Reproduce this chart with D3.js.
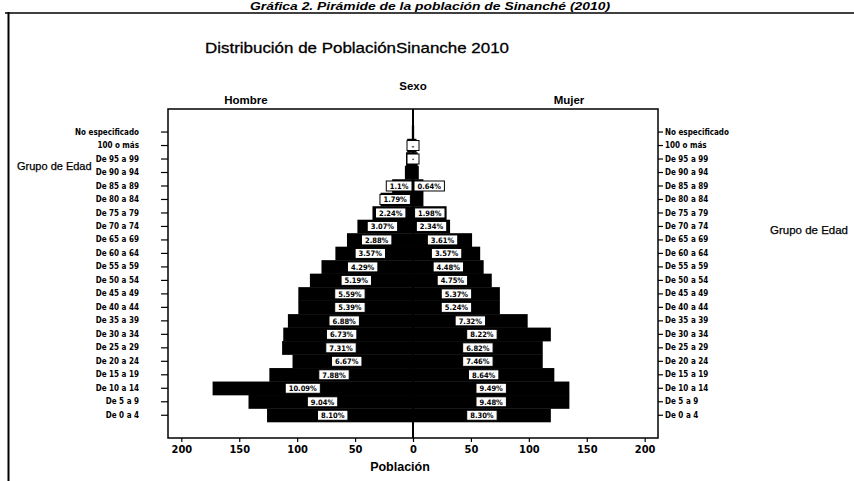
<!DOCTYPE html>
<html><head><meta charset="utf-8">
<script src="https://cdn.jsdelivr.net/npm/d3@7"></script>
<style>body{margin:0;background:#fff;} svg{display:block;}</style>
</head><body>
<script>
const categories = ["No especificado","100 o más","De 95 a 99","De 90 a 94","De 85 a 89","De 80 a 84","De 75 a 79","De 70 a 74","De 65 a 69","De 60 a 64","De 55 a 59","De 50 a 54","De 45 a 49","De 40 a 44","De 35 a 39","De 30 a 34","De 25 a 29","De 20 a 24","De 15 a 19","De 10 a 14","De 5 a 9","De 0 a 4"];
const hombre = [1, 5, 6, 7, 18, 28, 35, 48, 57, 67, 79, 89, 99, 99, 108, 112, 113, 104, 124, 173, 142, 126];
const mujer  = [1, 3, 4, 5, 9, 9, 29, 32, 51, 58, 61, 68, 75, 75, 99, 119, 112, 112, 122, 135, 135, 119];
const hombreLabels = ["", "-", "·", "", "1.1%", "1.79%", "2.24%", "3.07%", "2.88%", "3.57%", "4.29%", "5.19%", "5.59%", "5.39%", "6.88%", "6.73%", "7.31%", "6.67%", "7.88%", "10.09%", "9.04%", "8.10%"];
const mujerLabels  = ["", "", "", "", "0.64%", "", "1.98%", "2.34%", "3.61%", "3.57%", "4.48%", "4.75%", "5.37%", "5.24%", "7.32%", "8.22%", "6.82%", "7.46%", "8.64%", "9.49%", "9.48%", "8.30%"];
const xTicks = [-200, -150, -100, -50, 0, 50, 100, 150, 200];

const W = 854, H = 481;
const svg = d3.select("body").append("svg").attr("width", W).attr("height", H);
const narrow = "'Liberation Sans Narrow','DejaVu Sans Condensed','Arial Narrow',sans-serif";
const sans = "'Liberation Sans',Arial,sans-serif";

// page frame and page heading
svg.append("text").attr("x", 430).attr("y", 10).attr("text-anchor", "middle")
  .attr("font-family", sans).attr("font-weight", "bold").attr("font-style", "italic")
  .attr("font-size", 11.5).attr("textLength", 360).attr("lengthAdjust", "spacingAndGlyphs")
  .text("Gráfica 2. Pirámide de la población de Sinanché (2010)");
svg.append("line").attr("x1", 5).attr("x2", W).attr("y1", 13).attr("y2", 13).attr("stroke", "#000").attr("stroke-width", 1.5);
svg.append("line").attr("x1", 8.5).attr("x2", 8.5).attr("y1", 12).attr("y2", H).attr("stroke", "#000").attr("stroke-width", 2);

const plotL = 168, plotR = 658, plotT = 109, plotB = 438;
const x = d3.scaleLinear().domain([-211.5, 211.5]).range([plotL, plotR]);
const y = d3.scaleBand().domain(categories).range([125.3, 422]).padding(0);

// titles
svg.append("text").attr("x", 357).attr("y", 53).attr("text-anchor", "middle")
  .attr("font-family", sans).attr("font-size", 15).attr("stroke", "#000").attr("stroke-width", 0.3)
  .attr("textLength", 304).attr("lengthAdjust", "spacingAndGlyphs")
  .text("Distribución de PoblaciónSinanche 2010");
svg.append("text").attr("x", 413).attr("y", 90).attr("text-anchor", "middle")
  .attr("font-family", sans).attr("font-weight", "bold").attr("font-size", 11.5).text("Sexo");
svg.append("text").attr("x", 246).attr("y", 104).attr("text-anchor", "middle")
  .attr("font-family", sans).attr("font-weight", "bold").attr("font-size", 11.5).text("Hombre");
svg.append("text").attr("x", 569).attr("y", 104).attr("text-anchor", "middle")
  .attr("font-family", sans).attr("font-weight", "bold").attr("font-size", 11.5).text("Mujer");

// bars
const g = svg.append("g");
g.selectAll("rect.h").data(categories).join("rect").attr("class", "h")
  .attr("x", (d, i) => x(-hombre[i])).attr("width", (d, i) => x(0) - x(-hombre[i]))
  .attr("y", d => y(d)).attr("height", y.bandwidth() + 0.3).attr("fill", "#000");
g.selectAll("rect.m").data(categories).join("rect").attr("class", "m")
  .attr("x", x(0)).attr("width", (d, i) => x(mujer[i]) - x(0))
  .attr("y", d => y(d)).attr("height", y.bandwidth() + 0.3).attr("fill", "#000");

// center line
svg.append("line").attr("x1", x(0)).attr("x2", x(0)).attr("y1", plotT).attr("y2", plotB)
  .attr("stroke", "#000").attr("stroke-width", 2);

// label boxes
function addLabel(txt, val, side, cat) {
  if (!txt) return;
  const lg = svg.append("g");
  const t = lg.append("text").attr("font-family", narrow).attr("font-weight", "bold")
    .attr("font-size", 7.5).attr("text-anchor", "middle").attr("dominant-baseline", "central").text(txt);
  const tw = t.node().getComputedTextLength();
  const bw = Math.max(tw + 7, 12), bh = 10;
  const halfPx = Math.abs(x(val) - x(0));
  let off = side < 0 ? halfPx * 0.55 : halfPx * 0.5;
  off = Math.max(off, bw / 2 + 1);
  const cx = bw < 20 ? x(0) : x(0) + side * off;
  const cy = y(cat) + y.bandwidth() / 2;
  lg.insert("rect", "text").attr("x", cx - bw / 2).attr("y", cy - bh / 2).attr("width", bw).attr("height", bh)
    .attr("fill", "#fff").attr("stroke", "#000").attr("stroke-width", 1);
  t.attr("x", cx).attr("y", cy + 0.5);
}
categories.forEach((c, i) => {
  addLabel(hombreLabels[i], hombre[i], -1, c);
  addLabel(mujerLabels[i], mujer[i], 1, c);
});

// plot frame
svg.append("rect").attr("x", plotL).attr("y", plotT).attr("width", plotR - plotL).attr("height", plotB - plotT)
  .attr("fill", "none").attr("stroke", "#000").attr("stroke-width", 1.5);

// axes
const xa = svg.append("g").attr("transform", `translate(0,${plotB})`)
  .call(d3.axisBottom(x).tickValues(xTicks).tickFormat(d => Math.abs(d)).tickSize(4).tickPadding(3));
xa.select(".domain").remove();
xa.selectAll("text").attr("font-family", narrow).attr("font-weight", "bold").attr("font-size", 11).attr("fill", "#000");
xa.selectAll("line").attr("stroke-width", 1.2);

const yl = svg.append("g").attr("transform", `translate(${plotL},0)`)
  .call(d3.axisLeft(y).tickSize(7).tickPadding(22));
yl.select(".domain").remove();
yl.selectAll("text").attr("font-family", narrow).attr("font-weight", "bold").attr("font-size", 8).attr("fill", "#000");
yl.selectAll("line").attr("stroke-width", 1.2);

const yr = svg.append("g").attr("transform", `translate(${plotR},0)`)
  .call(d3.axisRight(y).tickSize(5).tickPadding(2));
yr.select(".domain").remove();
yr.selectAll("text").attr("font-family", narrow).attr("font-weight", "bold").attr("font-size", 8).attr("fill", "#000");
yr.selectAll("line").attr("stroke-width", 1.2);

// axis titles
svg.append("text").attr("x", 400).attr("y", 471).attr("text-anchor", "middle")
  .attr("font-family", sans).attr("font-weight", "bold").attr("font-size", 12.5).text("Población");
svg.append("text").attr("x", 17).attr("y", 170)
  .attr("font-family", sans).attr("font-size", 11).attr("stroke", "#000").attr("stroke-width", 0.25).text("Grupo de Edad");
svg.append("text").attr("x", 770).attr("y", 234)
  .attr("font-family", sans).attr("font-size", 11.5).attr("stroke", "#000").attr("stroke-width", 0.25).text("Grupo de Edad");
</script>
</body></html>
